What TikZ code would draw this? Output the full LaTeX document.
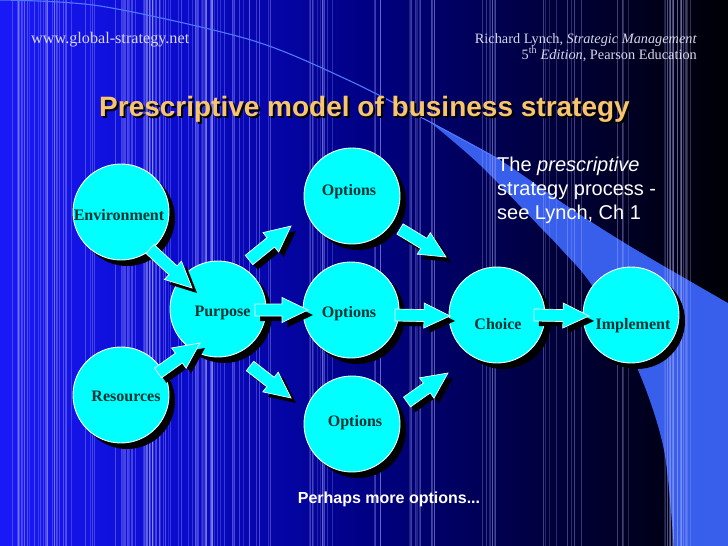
\documentclass[tikz,border=0pt]{standalone}
\usepackage{fontspec}
\setmainfont{Liberation Serif}
\setsansfont{Liberation Sans}
\usetikzlibrary{calc,shadows}
\definecolor{cy}{RGB}{0,255,255}
\definecolor{lbltxt}{RGB}{0,50,50}
\definecolor{bandblue}{RGB}{55,95,235}
\definecolor{arcblue}{RGB}{80,120,255}
\definecolor{stripec}{RGB}{175,175,255}
\definecolor{headtxt}{RGB}{215,215,235}
\definecolor{titlec}{RGB}{248,196,108}
\pgfdeclarehorizontalshading{bgshade}{100bp}{rgb(0bp)=(0.1,0.1,0.97); rgb(25bp)=(0.1,0.1,0.97); rgb(37.5bp)=(0.04,0.04,0.8); rgb(50bp)=(0,0,0.52); rgb(62.5bp)=(0,0,0.24); rgb(75bp)=(0,0,0.02); rgb(100bp)=(0,0,0.02)}
\tikzset{
  circnode/.style={circle, minimum size=96pt, inner sep=0pt, fill=cy, draw=white, line width=0.9pt,
    drop shadow={shadow xshift=6pt, shadow yshift=-6pt, fill=black, opacity=1}},
  lbl/.style={anchor=base, text=lbltxt, inner sep=0pt, font=\fontsize{16}{18}\selectfont\bfseries},
  blockarrowstyle/.style={fill=cy, draw=white, line width=0.7pt, line join=miter,
    drop shadow={shadow xshift=5pt, shadow yshift=-5pt, fill=black, opacity=1}},
  stripe/.style={draw=stripec, line width=0.6pt},
  headfont/.style={text=headtxt, inner sep=0pt},
}
\newcommand\blockarr[2]{%
  \coordinate (nk) at ($(#2)!26pt!(#1)$);
  \path[blockarrowstyle] ($(#1)!6pt!90:(#2)$) -- ($(nk)!6pt!-90:(#1)$) -- ($(nk)!12.5pt!-90:(#1)$)
     -- (#2) -- ($(nk)!12.5pt!90:(#1)$) -- ($(nk)!6pt!90:(#1)$) -- ($(#1)!6pt!-90:(#2)$) -- cycle;
}
\begin{document}
\begin{tikzpicture}[x=1pt,y=-1pt]
\useasboundingbox (0,0) rectangle (728,546);
\begin{scope}
\clip (0,0) rectangle (728,546);
% background
\fill[shading=bgshade] (0,0) rectangle (728,546);
% blue band
\fill[bandblue] plot[smooth] coordinates {(430,122) (500,160) (570,208) (633,248) (740,310)}
  -- (740,550) -- (674,550)
  -- plot[smooth] coordinates {(674,550) (664,450) (638,370) (593,287) (562,250) (543,230) (480,165) (430,122)} -- cycle;
% stripes
\pgfmathsetseed{4242}
\foreach \c in {1,...,48}{
  \pgfmathsetmacro{\cx}{rnd*740-6}
  \foreach \k in {1,...,4}{
    \pgfmathsetmacro{\sx}{\cx+rnd*16}
    \pgfmathsetmacro{\so}{0.18+0.22*rnd}
    \draw[stripe, opacity=\so] (\sx,0) -- (\sx,546);
  }
}
% thin arc line
\draw[arcblue, line width=1.1pt] plot[smooth] coordinates {(-2,0) (100,6) (251,40) (348,80) (430,122) (500,160)};
\end{scope}
% header texts
\node[headfont, anchor=base west, font=\fontsize{16.2}{18}\selectfont] (url) at (31,43) {www.global-strategy.net};
\node[headfont, anchor=base east, font=\fontsize{14.3}{17}\selectfont] (ref1) at (697,43) {Richard Lynch, \textit{Strategic Management}};
\node[headfont, anchor=base east, font=\fontsize{14.3}{17}\selectfont] (ref2) at (697,59) {5\textsuperscript{th} \textit{Edition}, Pearson Education};
% title
\node[anchor=base, inner sep=0pt, text=black, font=\sffamily\bfseries\fontsize{28}{32}\selectfont] (titsh) at (366.5,118.5) {Prescriptive model of business strategy};
\node[anchor=base, inner sep=0pt, text=titlec, font=\sffamily\bfseries\fontsize{28}{32}\selectfont] (title) at (364.5,116.5) {Prescriptive model of business strategy};
% side text
\node[anchor=base west, inner sep=0pt, text=white, font=\sffamily\fontsize{20}{24}\selectfont] (s1) at (497,171) {The \textit{prescriptive}};
\node[anchor=base west, inner sep=0pt, text=white, font=\sffamily\fontsize{20}{24}\selectfont] (s2) at (497,195) {strategy process -};
\node[anchor=base west, inner sep=0pt, text=white, font=\sffamily\fontsize{20}{24}\selectfont] (s3) at (497,219) {see Lynch, Ch 1};
\node[anchor=base, inner sep=0pt, text=white, font=\sffamily\bfseries\fontsize{16}{19}\selectfont] (more) at (389,503) {Perhaps more options...};
% circles
\node[circnode] (env) at (121,212) {};
\node[circnode] (purp) at (218,309) {};
\node[circnode] (res) at (121,395) {};
\node[circnode] (opt1) at (352,196) {};
\node[circnode] (opt2) at (351,310) {};
\node[circnode] (opt3) at (352,424) {};
\node[circnode] (choice) at (497,315) {};
\node[circnode] (impl) at (631,315) {};
% arrow end points
\coordinate (a1s) at (150,249); \coordinate (a1e) at (192,288);
\coordinate (a2s) at (158,373); \coordinate (a2e) at (200,343);
\coordinate (a3s) at (249,260); \coordinate (a3e) at (291,226);
\coordinate (a4s) at (255,310); \coordinate (a4e) at (308,310);
\coordinate (a5s) at (250,366); \coordinate (a5e) at (291,398);
\coordinate (a6s) at (400,229); \coordinate (a6e) at (446,257);
\coordinate (a7s) at (395,315); \coordinate (a7e) at (450,316);
\coordinate (a8s) at (407,402); \coordinate (a8e) at (448,373);
\coordinate (a9s) at (534,315); \coordinate (a9e) at (589,316);
\blockarr{a1s}{a1e}
\blockarr{a2s}{a2e}
\blockarr{a3s}{a3e}
\blockarr{a4s}{a4e}
\blockarr{a5s}{a5e}
\blockarr{a6s}{a6e}
\blockarr{a7s}{a7e}
\blockarr{a8s}{a8e}
\blockarr{a9s}{a9e}
% labels
\node[lbl] (envt) at (119,220) {Environment};
\node[lbl] (purpt) at (222.5,316) {Purpose};
\node[lbl] (rest) at (126,401) {Resources};
\node[lbl] (o1t) at (349,195) {Options};
\node[lbl] (o2t) at (349,317) {Options};
\node[lbl] (o3t) at (355,426) {Options};
\node[lbl] (cht) at (498,329) {Choice};
\node[lbl] (imt) at (633,329) {Implement};
\end{tikzpicture}
\end{document}
